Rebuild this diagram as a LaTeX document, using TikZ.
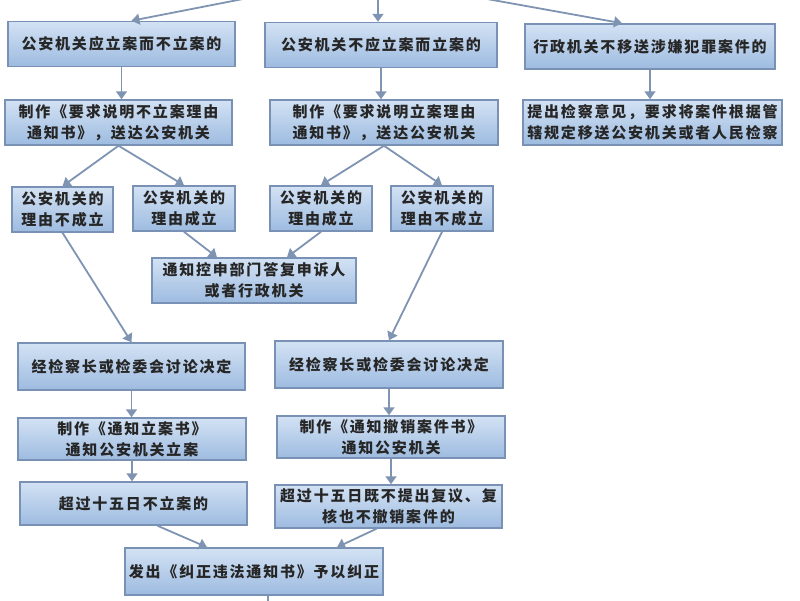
\documentclass[tikz,border=0pt]{standalone}
\usepackage{fontspec}
\setmainfont{Noto Sans CJK SC}[LetterSpace=12]
\usetikzlibrary{arrows.meta}
\definecolor{boxtop}{HTML}{D3E2F4}
\definecolor{boxbot}{HTML}{9DBBE0}
\definecolor{boxline}{HTML}{7891B5}
\definecolor{arrowc}{HTML}{7F94B2}
\definecolor{txt}{HTML}{262626}

\begin{document}
\begin{tikzpicture}
  [x=1pt,y=-1pt,
   every node/.style={draw=boxline,line width=1.5pt,top color=boxtop,bottom color=boxbot,
     align=center,font=\fontsize{15}{21}\selectfont\bfseries,text=txt,inner sep=2pt,minimum height=45pt},
   link/.style={draw=arrowc,line width=1.8pt,-{Triangle[width=11pt,length=8pt]}}]
  \useasboundingbox (0,0) rectangle (800,600);
  \coordinate (in1) at (289,-10);
  \coordinate (in2) at (378,-10);
  \coordinate (in3) at (437,-10);
  \coordinate (out) at (268,615);

  \node[minimum width=227pt] (A1) at (121.5,44)  {公安机关应立案而不立案的};
  \node[minimum width=232pt] (A2) at (381,45)    {公安机关不应立案而立案的};
  \node[minimum width=250pt] (A3) at (650,46.5)  {行政机关不移送涉嫌犯罪案件的};
  \node[minimum width=227pt] (B1) at (118.5,122.5) {制作《要求说明不立案理由\\通知书》，送达公安机关};
  \node[minimum width=228pt] (B2) at (384,122.5)   {制作《要求说明立案理由\\通知书》，送达公安机关};
  \node[minimum width=259pt] (B3) at (652.5,122.5) {提出检察意见，要求将案件根据管\\辖规定移送公安机关或者人民检察};
  \node[minimum width=101pt] (C1) at (62.5,209.5) {公安机关的\\理由不成立};
  \node[minimum width=102pt] (C2) at (184,208.5)  {公安机关的\\理由成立};
  \node[minimum width=102pt] (C3) at (321,208.5)  {公安机关的\\理由成立};
  \node[minimum width=102pt] (C4) at (442,208.5)  {公安机关的\\理由不成立};
  \node[minimum width=204pt] (D)  at (254,280.5)  {通知控申部门答复申诉人\\或者行政机关};
  \node[minimum width=227pt,minimum height=47pt] (E1) at (131.5,366.5) {经检察长或检委会讨论决定};
  \node[minimum width=228pt,minimum height=47pt] (E2) at (389,364.5)   {经检察长或检委会讨论决定};
  \node[minimum width=228pt,minimum height=42pt] (F1) at (132,439)     {制作《通知立案书》\\通知公安机关立案};
  \node[minimum width=228pt,minimum height=42pt] (F2) at (391,437)     {制作《通知撤销案件书》\\通知公安机关};
  \node[minimum width=227pt,minimum height=43pt] (G1) at (133.5,503.5) {超过十五日不立案的};
  \node[minimum width=227pt,minimum height=43pt] (G2) at (388.5,506.5) {超过十五日既不提出复议、复\\核也不撤销案件的};
  \node[minimum width=258pt,minimum height=47pt] (H)  at (254,571.5)   {发出《纠正违法通知书》予以纠正};

  \draw[link] (in1) -- ([xshift=10pt]A1.north);
  \draw[link] (in2) -- (in2 |- A2.north);
  \draw[link] (in3) -- ([xshift=-28pt]A3.north);
  \foreach \from/\to in {A1.south/B1.north, A2.south/B2.north, A3.south/B3.north,
      E1.south/F1.north, E2.south/F2.north, F1.south/G1.north, F2.south/G2.north}
    \draw[link] (\from) -- (\from |- \to);
  \foreach \from/\to in {B1.south/C1.north, B1.south/C2.north, B2.south/C3.north,
      B2.south/C4.north, C1.south/E1.north, C4.south/E2.north}
    \draw[link] (\from) -- (\to);
  \draw[link] (C2.south) -- ([xshift=-37pt]D.north);
  \draw[link] (C3.south) -- ([xshift=33pt]D.north);
  \draw[link] ([xshift=24pt]G1.south) -- ([xshift=-47pt]H.north);
  \draw[link] ([xshift=-12pt]G2.south) -- ([xshift=83pt]H.north);
  \draw[draw=arrowc,line width=1.8pt] ([xshift=14pt]H.south) -- (out);
\end{tikzpicture}
\end{document}
